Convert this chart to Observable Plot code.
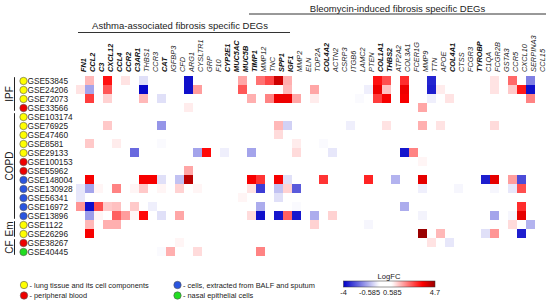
<!DOCTYPE html>
<html><head><meta charset="utf-8">
<script src="https://cdn.jsdelivr.net/npm/d3@7"></script>
<script src="https://cdn.jsdelivr.net/npm/@observablehq/plot@0.6"></script>
<style>
html,body{margin:0;padding:0;background:#fff;}
#chart{width:550px;height:304px;overflow:hidden;}
svg{font-family:Arial,"Liberation Sans",sans-serif;}
</style></head><body><div id="chart"></div>
<script>
// Column genes (left to right)
const genes = ["FN1","CCL2","C3","CXCL12","CCL4","CCR2","C3AR1","THBS1","CCR3","CAT","IGFBP3","CFD","ARG1","CYSLTR1","GRP","F10","CYP2E1","MUC5AC","MUC5B","TIMP1","MMP12","TNC","SPP1","IGF1",
  "MMP2","ELN","TOP2A","COL4A2","ACTN2","CSRP3","ITGB6","LAMC2","PTEN","COL1A1","THBS2","ATP2A2","COL3A1","FCER1G","MMP9","TTN","APOE","COL4A1","CTSS","FCGR3","TYROBP","C1QA","FCGR2B","GSTA3","CCR5","CXCL10","SERPINA3","CCL15"];
const boldGenes = ["FN1","CCL2","C3","CXCL12","CCL4","CCR2","C3AR1","CAT","CYP2E1","MUC5AC","MUC5B","TIMP1","SPP1","IGF1","COL4A2","COL1A1","THBS2","COL4A1","TYROBP"];
// Rows (datasets) and their sample source
const datasets = ["GSE53845","GSE24206","GSE72073","GSE33566","GSE103174","GSE76925","GSE47460","GSE8581","GSE29133","GSE100153","GSE55962","GSE148004","GSE130928","GSE56341","GSE16972","GSE13896","GSE1122","GSE26296","GSE38267","GSE40445"];
const sources = ["lung","lung","lung","blood","lung","lung","lung","lung","lung","blood","blood","balf","balf","balf","balf","balf","lung","lung","blood","nasal"];
// Disease groups
const groupNames = ["IPF","COPD","Em","CF"];
const groupFirst = ["GSE53845","GSE103174","GSE1122","GSE38267"];
const groupLast  = ["GSE33566","GSE13896","GSE26296","GSE40445"];
// Source legend
const sourceKeys = ["lung","blood","balf","nasal"];
const sourceLabels = ["- lung tissue and its cell components","- peripheral blood","- cells, extracted from BALF and sputum","- nasal epithelial cells"];
const sourceColors = ["#ffff00","#ee0000","#2a55e0","#22dd22"];
// Color scale stops
const colorDomain = [-4,-0.585,0.585,3.5,4.7];
const colorRange = ["#0000c8","#ffffff","#ffffff","#ff0000","#9a0000"];
const legendTicks = ["-4","-0.585","0.585","4.7"];
// LogFC values [dataset, gene, logFC]
const cells = [
 ["GSE53845","CCL2",1.4],["GSE53845","CXCL12",3.3],["GSE53845","CCR2",0.9],["GSE53845","THBS1",-1.0],["GSE53845","ARG1",-3.8],["GSE53845","MUC5B",1.6],["GSE53845","MMP12",2.2],["GSE53845","TNC",2.7],["GSE53845","SPP1",4.1],["GSE53845","IGF1",1.5],["GSE53845","COL1A1",3.3],["GSE53845","THBS2",2.6],["GSE53845","COL3A1",3.0],["GSE53845","TTN",-3.5],["GSE53845","FCGR2B",0.9],["GSE53845","CCR5",2.3],["GSE53845","SERPINA3",-2.3],
 ["GSE24206","FN1",0.9],["GSE24206","CCL2",-1.8],["GSE24206","CXCL12",2.5],["GSE24206","THBS1",-3.9],["GSE24206","ARG1",-3.8],["GSE24206","CYSLTR1",1.7],["GSE24206","MUC5B",2.5],["GSE24206","IGF1",1.4],["GSE24206","TOP2A",1.6],["GSE24206","PTEN",-0.8],["GSE24206","COL1A1",3.7],["GSE24206","THBS2",1.3],["GSE24206","COL3A1",3.7],["GSE24206","TTN",-3.6],["GSE24206","APOE",0.8],["GSE24206","FCGR2B",0.9],["GSE24206","CCR5",1.2],["GSE24206","CXCL10",3.2],["GSE24206","SERPINA3",-3.8],
 ["GSE72073","CCL2",2.8],["GSE72073","CXCL12",1.1],["GSE72073","THBS1",1.4],["GSE72073","CAT",-1.0],["GSE72073","TIMP1",1.5],["GSE72073","TNC",2.0],["GSE72073","SPP1",3.7],["GSE72073","IGF1",3.7],["GSE72073","MMP2",1.6],["GSE72073","TOP2A",0.8],["GSE72073","LAMC2",-0.65],["GSE72073","COL1A1",2.8],["GSE72073","THBS2",3.6],["GSE72073","COL3A1",3.6],["GSE72073","TTN",-0.8],["GSE72073","COL4A1",0.9],["GSE72073","SERPINA3",2.0],
 ["GSE33566","ARG1",0.8],["GSE33566","MMP9",1.6],
 ["GSE76925","CXCL12",1.2],["GSE76925","CAT",-2.0],["GSE76925","SPP1",1.4],["GSE76925","IGF1",-1.2],["GSE76925","ITGB6",-0.8],["GSE76925","THBS2",0.9],["GSE76925","MMP9",1.5],["GSE76925","APOE",0.9],["GSE76925","FCGR2B",1.0],
 ["GSE47460","SPP1",1.0],
 ["GSE8581","CCL2",1.2],["GSE8581","CCL4",0.8],["GSE8581","CAT",-0.65],["GSE8581","MMP2",0.8],["GSE8581","COL4A2",-0.65],
 ["GSE29133","C3AR1",-2.6],["GSE29133","CYSLTR1",-1.8],["GSE29133","GRP",3.4],["GSE29133","CYP2E1",-0.8],["GSE29133","TIMP1",-1.8],["GSE29133","MMP2",1.0],["GSE29133","ACTN2",-0.9],["GSE29133","COL3A1",-3.7],["GSE29133","FCER1G",2.0],
 ["GSE100153","MMP9",0.7],
 ["GSE55962","ARG1",1.6],
 ["GSE148004","CCL2",3.6],["GSE148004","THBS1",3.6],["GSE148004","CCR3",3.6],["GSE148004","CAT",-1.0],["GSE148004","CFD",-1.4],["GSE148004","ARG1",4.3],["GSE148004","TIMP1",3.6],["GSE148004","MMP12",2.9],["GSE148004","SPP1",3.6],["GSE148004","IGF1",-1.0],["GSE148004","COL4A2",2.9],["GSE148004","PTEN",3.1],["GSE148004","ATP2A2",-1.6],["GSE148004","MMP9",3.8],["GSE148004","C1QA",-3.6],["GSE148004","FCGR2B",3.8],["GSE148004","CCR5",1.7],["GSE148004","CXCL10",-3.0],
 ["GSE130928","FN1",-0.9],["GSE130928","CCL2",-1.8],["GSE130928","C3",0.7],["GSE130928","CCL4",2.0],["GSE130928","C3AR1",0.7],["GSE130928","THBS1",1.2],["GSE130928","CAT",0.7],["GSE130928","CFD",1.1],["GSE130928","CYSLTR1",0.7],["GSE130928","TIMP1",0.9],["GSE130928","MMP12",-3.2],["GSE130928","SPP1",-1.4],["GSE130928","IGF1",1.1],["GSE130928","MMP2",-2.8],["GSE130928","MMP9",-0.8],["GSE130928","CTSS",-0.7],["GSE130928","FCGR2B",-0.7],["GSE130928","CCR5",-0.9],["GSE130928","CXCL10",2.6],
 ["GSE56341","FN1",-0.9],["GSE56341","MUC5B",0.7],["GSE56341","SPP1",-1.0],
 ["GSE16972","FN1",1.8],["GSE16972","CCL2",-3.8],["GSE16972","C3",2.6],["GSE16972","CXCL12",1.2],["GSE16972","CCL4",1.3],["GSE16972","C3AR1",1.2],["GSE16972","CCR3",-0.8],["GSE16972","MMP12",-1.7],["GSE16972","MMP2",-0.65],["GSE16972","COL3A1",-1.7],["GSE16972","CXCL10",3.0],
 ["GSE13896","CCL2",-1.9],["GSE13896","C3",0.7],["GSE13896","CCL4",2.4],["GSE13896","CCR2",1.7],["GSE13896","C3AR1",0.7],["GSE13896","THBS1",3.4],["GSE13896","CAT",-1.0],["GSE13896","CFD",1.6],["GSE13896","TIMP1",1.0],["GSE13896","MMP12",-3.8],["GSE13896","SPP1",-3.7],["GSE13896","IGF1",2.4],["GSE13896","MMP2",-3.7],["GSE13896","TOP2A",-1.7],["GSE13896","ACTN2",1.1],["GSE13896","MMP9",-0.75],["GSE13896","FCGR2B",-1.8],["GSE13896","CCR5",-0.7],["GSE13896","CXCL10",3.8],
 ["GSE1122","CCL2",1.4],["GSE1122","CXCL12",1.5],["GSE1122","CCL4",1.5],["GSE1122","TOP2A",1.1],["GSE1122","PTEN",-0.7],["GSE1122","CCR5",1.0],["GSE1122","SERPINA3",-1.6],
 ["GSE26296","CCL2",3.6],["GSE26296","MMP9",4.7],["GSE26296","APOE",1.4],["GSE26296","C1QA",-1.0],["GSE26296","FCGR2B",1.8],["GSE26296","CXCL10",-3.6],
 ["GSE38267","CFD",0.7],["GSE38267","TTN",0.9],["GSE38267","COL4A1",-0.9],
 ["GSE40445","CAT",-0.65],["GSE40445","IGFBP3",1.5],["GSE40445","CYSLTR1",1.0],["GSE40445","MMP12",2.0]
];

const table = cells.map(([dataset, gene, logFC]) => ({dataset, gene, logFC}));
const boldSet = new Set(boldGenes);
const srcOf = new Map(datasets.map((d, i) => [d, sources[i]]));
const font = "Arial, 'Liberation Sans', sans-serif";

const plot = Plot.plot({
  width: 550, height: 304,
  marginLeft: 73, marginRight: 4, marginTop: 74.5, marginBottom: 47.5,
  x: {domain: genes, padding: 0, axis: null},
  y: {domain: datasets, padding: 0, axis: null},
  color: {type: "linear", domain: colorDomain, range: colorRange},
  style: {fontFamily: font, background: "white", color: "#222"},
  marks: [
    Plot.cell(table, {x: "gene", y: "dataset", fill: "logFC", inset: 0}),
    Plot.text(genes.filter(g => !boldSet.has(g)), {x: d => d, text: d => d, frameAnchor: "top", dy: -3, rotate: -90, textAnchor: "start", fontStyle: "italic", fontSize: 7.4, fill: "#222"}),
    Plot.text(genes.filter(g => boldSet.has(g)), {x: d => d, text: d => d, frameAnchor: "top", dy: -3, rotate: -90, textAnchor: "start", fontStyle: "italic", fontWeight: "bold", fontSize: 7.4, fill: "#111"}),
    ...sourceKeys.map((k, i) => Plot.dot(datasets.filter(d => srcOf.get(d) === k), {y: d => d, frameAnchor: "left", dx: -50, r: 3.7, fill: sourceColors[i], stroke: "#555", strokeWidth: 0.6})),
    Plot.text(datasets, {y: d => d, text: d => d, frameAnchor: "left", dx: -46, textAnchor: "start", fontSize: 8.3, fill: "#222"})
  ]
});
document.getElementById("chart").appendChild(plot);

const svg = d3.select(plot);
const xs = plot.scale("x"), ys = plot.scale("y"), cs = plot.scale("color");
const bw = xs.bandwidth, bh = ys.bandwidth;

// Group brackets and labels
const g = svg.append("g").attr("font-family", font).attr("fill", "#222").attr("text-anchor", "start");
groupNames.forEach((name, i) => {
  const y0 = ys.apply(groupFirst[i]) + 1.2, y1 = ys.apply(groupLast[i]) + bh - 1.2;
  g.append("line").attr("x1", 14.5).attr("x2", 14.5).attr("y1", y0).attr("y2", y1).attr("stroke", "#222").attr("stroke-width", 1);
  g.append("text").attr("transform", `translate(9,${(y0 + y1) / 2}) rotate(-90)`).attr("text-anchor", "middle").attr("dy", "0.35em").attr("font-size", 10).text(name);
});

// Header brackets
const asthmaX0 = xs.apply("FN1") + 2, asthmaX1 = xs.apply("IGF1") + bw - 2;
const bleoX0 = xs.apply("TIMP1") + 2, bleoX1 = xs.apply("CCL15") + bw + 2;
g.append("line").attr("x1", asthmaX0).attr("x2", asthmaX1).attr("y1", 32.5).attr("y2", 32.5).attr("stroke", "#333");
g.append("text").attr("x", (asthmaX0 + asthmaX1) / 2 - 4).attr("y", 29).attr("text-anchor", "middle").attr("font-size", 9.5).text("Asthma-associated fibrosis specific DEGs");
g.append("line").attr("x1", bleoX0).attr("x2", bleoX1).attr("y1", 14).attr("y2", 14).attr("stroke", "#333");
g.append("text").attr("x", (bleoX0 + bleoX1) / 2).attr("y", 11.5).attr("text-anchor", "middle").attr("font-size", 9.5).text("Bleomycin-induced fibrosis specific DEGs");

// Source legend
const legPos = [[24, 285], [24, 295.5], [177.5, 285], [177.5, 295.5]];
sourceKeys.forEach((k, i) => {
  const [lx, ly] = legPos[i];
  g.append("circle").attr("cx", lx).attr("cy", ly).attr("r", 3.7).attr("fill", sourceColors[i]).attr("stroke", "#555").attr("stroke-width", 0.6);
  g.append("text").attr("x", lx + 5.5).attr("y", ly).attr("dy", "0.35em").attr("text-anchor", "start").attr("font-size", 7.4).text(sourceLabels[i]);
});

// Color bar legend
const barX0 = 343.5, barX1 = 435, barY = 281, barH = 6;
const defs = svg.append("defs");
const grad = defs.append("linearGradient").attr("id", "logfc-grad").attr("x1", "0%").attr("x2", "100%");
d3.range(0, 1.0001, 0.02).forEach(t => {
  const v = colorDomain[0] + t * (colorDomain[colorDomain.length - 1] - colorDomain[0]);
  grad.append("stop").attr("offset", `${t * 100}%`).attr("stop-color", cs.apply(v));
});
g.append("rect").attr("x", barX0).attr("y", barY).attr("width", barX1 - barX0).attr("height", barH).attr("fill", "url(#logfc-grad)").attr("stroke", "#333").attr("stroke-width", 0.5);
g.append("text").attr("x", 389).attr("y", 279).attr("text-anchor", "middle").attr("font-size", 7.6).text("LogFC");
const tickPos = [[barX0, "middle"], [380, "end"], [383, "start"], [barX1, "middle"]];
legendTicks.forEach((t, i) => {
  g.append("text").attr("x", tickPos[i][0]).attr("y", 295).attr("text-anchor", tickPos[i][1]).attr("font-size", 7.4).text(t);
});
</script></body></html>
